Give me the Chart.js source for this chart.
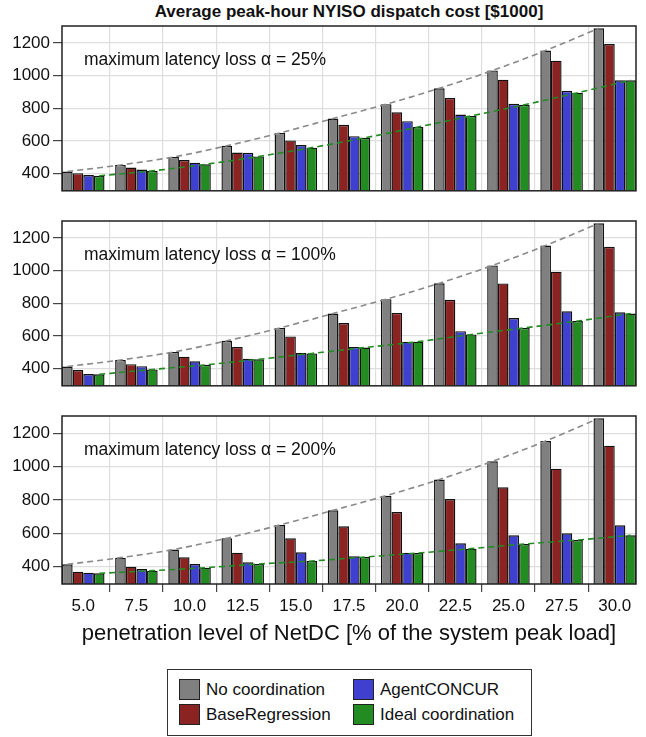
<!DOCTYPE html>
<html>
<head>
<meta charset="utf-8">
<script src="https://cdn.jsdelivr.net/npm/chart.js@4.4.1/dist/chart.umd.min.js"></script>
<style>
  body { margin: 0; background: #fff; width: 646px; height: 737px; position: relative; overflow: hidden;
         font-family: "Liberation Sans", Arial, sans-serif; color: #111; }
  canvas { position: absolute; left: 0; }
  #title { position: absolute; left: 62px; width: 574px; top: 2px; text-align: center;
           font-weight: bold; font-size: 17px; }
  #legend { position: absolute; left: 167px; top: 669px; width: 365px; height: 67px;
            border: 1px solid #333; box-sizing: border-box; }
  .item { position: absolute; font-size: 17px; line-height: 21px; white-space: nowrap; }
  .swatch { display: inline-block; width: 21px; height: 21px; border: 1px solid #222;
            vertical-align: top; margin-right: 6px; box-sizing: border-box; }
</style>
</head>
<body>
<div id="title">Average peak-hour NYISO dispatch cost [$1000]</div>
<canvas id="panel1" width="646" height="204" style="top:0px"></canvas>
<canvas id="panel2" width="646" height="204" style="top:195px"></canvas>
<canvas id="panel3" width="646" height="260" style="top:390px"></canvas>
<div id="legend"></div>
<script>
// penetration level (x) and tick labels
const penetration = [5.0, 7.5, 10.0, 12.5, 15.0, 17.5, 20.0, 22.5, 25.0, 27.5, 30.0];
const xTicks = [5.0, 7.5, 10.0, 12.5, 15.0, 17.5, 20.0, 22.5, 25.0, 27.5, 30.0];
const yTicks = [400, 600, 800, 1000, 1200];

const seriesNames = ['No coordination', 'BaseRegression', 'AgentCONCUR', 'Ideal coordination'];
const seriesColors = ['#808080', '#8b2323', '#4040d0', '#228b22'];
const alphaLabels = ['25%', '100%', '200%'];

// no coordination is the same in every panel
const noCoord = [414, 454, 503, 571, 650, 738, 826, 923, 1032, 1154, 1290];

// alpha = 25%
const baseReg25 = [404, 438, 484, 530, 604, 700, 776, 864, 976, 1092, 1194];
const agent25   = [392, 426, 468, 528, 576, 630, 722, 762, 828, 908, 972];
const ideal25   = [388, 418, 458, 506, 560, 620, 686, 754, 822, 896, 972];

// alpha = 100%
const baseReg100 = [392, 428, 474, 534, 598, 680, 742, 822, 922, 994, 1146];
const agent100   = [368, 416, 446, 462, 496, 534, 566, 630, 710, 752, 746];
const ideal100   = [366, 396, 424, 458, 494, 530, 566, 610, 650, 692, 738];

// alpha = 200%
const baseReg200 = [370, 400, 456, 484, 570, 642, 728, 806, 876, 988, 1126];
const agent200   = [364, 386, 416, 426, 486, 462, 484, 540, 588, 600, 648];
const ideal200   = [360, 376, 394, 416, 434, 458, 482, 508, 536, 560, 588];

const xMin = 4, xMax = 31, yMin = 296, yMax = 1304;
const step = 2.5, catPct = 0.8;
const barW = step * catPct / 4;   // width of one bar in x units

Chart.defaults.font.family = '"Liberation Sans", Arial, sans-serif';
Chart.defaults.color = '#111';

const boxPlugin = {
  id: 'box',
  afterDraw(chart) {
    const a = chart.chartArea, ctx = chart.ctx;
    ctx.save();
    ctx.strokeStyle = '#222';
    ctx.lineWidth = 1.5;
    ctx.strokeRect(a.left, a.top, a.right - a.left, a.bottom - a.top);
    ctx.fillStyle = '#111';
    ctx.font = '17.5px "Liberation Sans", Arial, sans-serif';
    ctx.textBaseline = 'middle';
    ctx.fillText(chart.options.plugins.box.text, a.left + 22, a.top + 34);
    ctx.restore();
  }
};

function toPoints(vals, shift) {
  return vals.map((v, i) => ({ x: penetration[i] + shift, y: v }));
}

function makePanel(id, values, alpha, showX) {
  const datasets = [];
  // trend lines through the no-coordination and ideal bars
  datasets.push({
    type: 'line', data: toPoints(values[0], -1.5 * barW), borderColor: '#8a8a8a',
    borderWidth: 1.6, borderDash: [6, 4], pointRadius: 0, tension: 0.4,
    cubicInterpolationMode: 'monotone', order: 0
  });
  datasets.push({
    type: 'line', data: toPoints(values[3], 1.5 * barW), borderColor: '#228b22',
    borderWidth: 1.6, borderDash: [6, 4], pointRadius: 0, tension: 0.4,
    cubicInterpolationMode: 'monotone', order: 0
  });
  values.forEach((vals, k) => {
    datasets.push({
      type: 'bar', label: seriesNames[k], data: toPoints(vals, 0),
      backgroundColor: seriesColors[k], borderColor: '#111', borderWidth: 1.4,
      categoryPercentage: catPct, barPercentage: 1, order: 1
    });
  });

  new Chart(document.getElementById(id), {
    type: 'bar',
    data: { datasets },
    plugins: [boxPlugin],
    options: {
      responsive: false,
      animation: false,
      layout: { padding: { top: 26, right: 10, bottom: showX ? 0 : 10, left: 0 } },
      plugins: {
        legend: { display: false },
        tooltip: { enabled: false },
        box: { text: 'maximum latency loss \u03b1 = ' + alpha }
      },
      scales: {
        x: {
          type: 'linear', min: xMin, max: xMax, offset: false,
          afterBuildTicks: ax => { ax.ticks = xTicks.map(v => ({ value: v })); },
          afterFit: ax => { ax.height = showX ? 66 : 0; },
          ticks: { display: showX, callback: v => v.toFixed(1), font: { size: 17 },
                   padding: 4, maxRotation: 0, autoSkip: false },
          grid: { color: '#dedede', lineWidth: 1.2, drawTicks: showX, tickLength: 8, tickColor: '#444' },
          border: { display: false },
          title: { display: showX, text: 'penetration level of NetDC [% of the system peak load]',
                   font: { size: 22 }, padding: { top: 2, bottom: 3 } }
        },
        y: {
          min: yMin, max: yMax,
          afterBuildTicks: ax => { ax.ticks = yTicks.map(v => ({ value: v })); },
          afterFit: ax => { ax.width = 62; },
          ticks: { font: { size: 17 }, padding: 3, callback: v => String(v) },
          grid: { color: '#dedede', lineWidth: 1.2, tickLength: 9, tickColor: '#444' },
          border: { display: false }
        }
      }
    }
  });
}

makePanel('panel1', [noCoord, baseReg25, agent25, ideal25], alphaLabels[0], false);
makePanel('panel2', [noCoord, baseReg100, agent100, ideal100], alphaLabels[1], false);
makePanel('panel3', [noCoord, baseReg200, agent200, ideal200], alphaLabels[2], true);

// legend, two columns
const legend = document.getElementById('legend');
seriesNames.forEach((name, i) => {
  const col = Math.floor(i / 2), row = i % 2;
  const el = document.createElement('div');
  el.className = 'item';
  el.style.left = (11 + col * 174) + 'px';
  el.style.top = (9 + row * 25) + 'px';
  el.innerHTML = '<span class="swatch" style="background:' + seriesColors[i] + '"></span>' + name;
  legend.appendChild(el);
});
</script>
</body>
</html>
